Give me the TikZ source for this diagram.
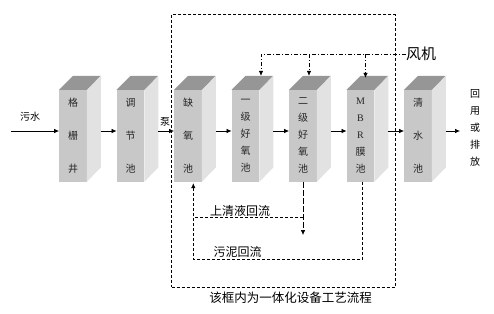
\documentclass[tikz,border=0pt]{standalone}
\usepackage{fontspec}
\setmainfont{Liberation Serif}
\newfontfamily\cjk{Noto Sans CJK SC}
\usetikzlibrary{arrows.meta,calc}
\definecolor{frontc}{RGB}{200,200,200}
\definecolor{sidec}{RGB}{226,226,226}
\definecolor{topc}{RGB}{150,150,150}
\newcommand\tankfaces[1]{%
  \fill[sidec] (#1.north east) -- ++(14,-14) -- ++(0,91.5) -- (#1.south east) -- cycle;
  \fill[topc] (#1.north west) -- ++(14,-14) -- ++(27.5,0) -- (#1.north east) -- cycle;}
\begin{document}
\begin{tikzpicture}[x=1pt,y=-1pt,
  tank/.style={fill=frontc,minimum width=27.5pt,minimum height=91.5pt,inner sep=0pt,align=center,text=black!85},
  fivech/.style={font=\cjk\fontsize{10}{17}\selectfont},
  threech/.style={font=\cjk\fontsize{10}{33}\selectfont},
  tip/.style={-{Latex[length=5pt,width=4.5pt]}},
  flow/.style={draw,line width=0.7pt,tip},
  air/.style={draw,line width=0.6pt,dash pattern=on 4pt off 2pt on 1pt off 2pt},
  sdash/.style={draw,line width=0.6pt,dash pattern=on 3pt off 2pt},
  ldash/.style={draw,line width=0.6pt,dash pattern=on 6pt off 2pt},
  lbl/.style={font=\cjk\fontsize{12}{12}\selectfont,inner sep=0pt}
]
\useasboundingbox (0,0) rectangle (494,313);

% frame
\node[sdash,minimum width=223.3pt,minimum height=273pt,inner sep=0pt] (frame) at (283.35,150.8) {};
\node[lbl,font=\cjk\fontsize{12.5}{12.5}\selectfont] (cap) at (290.5,298) {该框内为一体化设备工艺流程};

% tanks
\node[tank,threech] (b1) at (73,135.75) {格\\栅\\井};
\node[tank,threech] (b2) at (130.5,135.75) {调\\节\\池};
\node[tank,threech] (b3) at (188,135.75) {缺\\氧\\池};
\node[tank,fivech] (b4) at (245.5,135.75) {一\\级\\好\\氧\\池};
\node[tank,fivech] (b5) at (303,135.75) {二\\级\\好\\氧\\池};
\node[tank,fivech] (b6) at (360.5,135.75) {{\rmfamily M}\\{\rmfamily B}\\{\rmfamily R}\\膜\\池};
\node[tank,threech] (b7) at (418,135.75) {清\\水\\池};
\foreach \b in {b1,b2,b3,b4,b5,b6,b7} {\tankfaces{\b}}

% main flow
\coordinate (in) at (11,131);
\coordinate (out) at (460,131);
\node[font=\cjk\fontsize{10}{10}\selectfont,inner sep=0pt] (sw) at (30,117) {污水};
\node[font=\cjk\fontsize{10}{10}\selectfont,inner sep=0pt] (pump) at (165,122) {泵};
\node[fivech,align=center,inner sep=0pt] (reuse) at (475,127.5) {回\\用\\或\\排\\放};
\draw[flow] (in) -- (in -| b1.west);
\draw[flow] ($(b1.east |- in)+(14,0)$) -- (in -| b2.west);
\draw[flow] ($(b2.east |- in)+(14,0)$) -- (in -| b3.west);
\draw[flow] ($(b3.east |- in)+(14,0)$) -- (in -| b4.west);
\draw[flow] ($(b4.east |- in)+(14,0)$) -- (in -| b5.west);
\draw[flow] ($(b5.east |- in)+(14,0)$) -- (in -| b6.west);
\draw[flow] ($(b6.east |- in)+(14,0)$) -- (in -| b7.west);
\draw[flow] ($(b7.east |- in)+(14,0)$) -- (out);

% blower
\node[anchor=west,inner sep=0pt,font=\cjk\fontsize{15}{15}\selectfont] (fan) at (406,54) {风机};
\coordinate (t4) at ($(b4.north)+(15.5,-14)$);
\coordinate (t5) at ($(b5.north)+(6,-14)$);
\coordinate (t6) at ($(b6.north)+(5,-12)$);
\coordinate (j4) at (t4 |- fan.west);
\draw[air,tip] (fan.west) -- (j4) -- (t4);
\draw[air,tip] (t5 |- fan.west) -- (t5);
\draw[air,tip] (t6 |- fan.west) -- (t6);

% returns
\coordinate (s5) at (303,235);
\coordinate (k1) at (303,217.7);
\coordinate (ret) at ($(b3.south)+(5.3,1.5)$);
\coordinate (m6) at ($(b6.south)+(2.2,0)$);
\draw[ldash,tip] (b5.south) -- (s5);
\draw[sdash] (k1) -- (k1 -| ret);
\draw[sdash,tip] (m6) -- ++(0,77.5) -| (ret);
\node[lbl] (sup) at (240,210.5) {上清液回流};
\node[lbl] (sludge) at (237.5,251.5) {污泥回流};
\end{tikzpicture}
\end{document}
